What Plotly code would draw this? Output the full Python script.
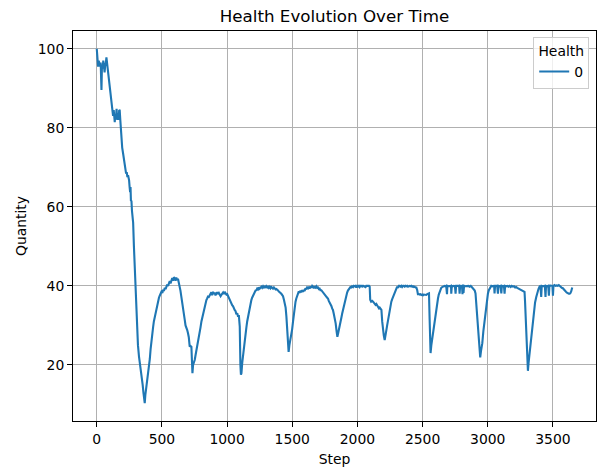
import plotly.graph_objects as go

steps = [0, 5, 10, 15, 20, 25, 30, 36, 40, 45, 50, 55, 60, 65, 70, 74, 80, 85, 92, 98, 105, 110, 115, 120, 125, 130, 135, 138, 142, 147, 152, 157, 162, 167, 172, 176, 181, 185, 189, 195, 202, 208, 215, 220, 225, 230, 235, 240, 248, 252, 256, 259, 262, 266, 270, 274, 279, 285, 291, 297, 304, 310, 316, 324, 333, 343, 352, 358, 363, 368, 373, 381, 387, 393, 400, 407, 413, 419, 425, 432, 438, 445, 452, 458, 464, 470, 477, 483, 490, 496, 503, 509, 515, 522, 528, 534, 540, 547, 553, 560, 566, 573, 579, 585, 592, 598, 604, 610, 617, 623, 629, 636, 642, 649, 655, 662, 668, 675, 681, 688, 694, 700, 706, 713, 719, 726, 730, 734, 739, 745, 752, 758, 765, 771, 777, 784, 790, 796, 803, 809, 815, 822, 828, 834, 841, 847, 853, 860, 866, 873, 879, 885, 892, 898, 905, 911, 918, 924, 931, 937, 943, 950, 956, 963, 969, 975, 982, 988, 995, 1001, 1008, 1014, 1020, 1027, 1033, 1039, 1046, 1052, 1058, 1065, 1071, 1078, 1084, 1090, 1097, 1102, 1106, 1110, 1116, 1122, 1129, 1135, 1141, 1148, 1154, 1160, 1167, 1173, 1180, 1186, 1192, 1199, 1205, 1212, 1218, 1225, 1231, 1237, 1244, 1250, 1256, 1263, 1269, 1276, 1282, 1289, 1295, 1301, 1308, 1314, 1320, 1327, 1333, 1340, 1346, 1352, 1359, 1365, 1372, 1378, 1384, 1391, 1397, 1403, 1410, 1416, 1423, 1429, 1436, 1442, 1449, 1455, 1461, 1467, 1472, 1478, 1484, 1493, 1499, 1506, 1512, 1518, 1525, 1531, 1537, 1544, 1550, 1556, 1563, 1569, 1576, 1582, 1588, 1595, 1601, 1608, 1614, 1621, 1627, 1633, 1640, 1646, 1653, 1659, 1665, 1672, 1678, 1685, 1691, 1697, 1704, 1710, 1716, 1723, 1729, 1736, 1742, 1748, 1755, 1761, 1768, 1774, 1780, 1787, 1793, 1800, 1806, 1812, 1818, 1825, 1833, 1840, 1846, 1852, 1858, 1864, 1870, 1877, 1883, 1889, 1896, 1902, 1908, 1915, 1921, 1927, 1934, 1940, 1946, 1953, 1959, 1966, 1972, 1979, 1985, 1991, 1998, 2004, 2011, 2017, 2023, 2030, 2036, 2043, 2049, 2055, 2062, 2068, 2075, 2081, 2089, 2094, 2098, 2105, 2113, 2120, 2126, 2132, 2139, 2145, 2152, 2158, 2165, 2171, 2178, 2184, 2190, 2196, 2202, 2209, 2215, 2222, 2228, 2235, 2241, 2247, 2254, 2260, 2266, 2273, 2279, 2285, 2292, 2298, 2305, 2311, 2317, 2324, 2330, 2337, 2343, 2350, 2356, 2362, 2369, 2375, 2382, 2388, 2394, 2401, 2407, 2414, 2420, 2426, 2433, 2439, 2446, 2452, 2458, 2464, 2471, 2477, 2484, 2490, 2497, 2503, 2509, 2516, 2522, 2528, 2535, 2541, 2549, 2554, 2561, 2567, 2573, 2579, 2586, 2592, 2598, 2605, 2611, 2618, 2624, 2630, 2637, 2643, 2650, 2656, 2662, 2669, 2675, 2681, 2687, 2690, 2700, 2707, 2713, 2718, 2720, 2724, 2732, 2740, 2748, 2753, 2757, 2766, 2774, 2780, 2784, 2788, 2796, 2802, 2806, 2810, 2814, 2818, 2826, 2835, 2843, 2852, 2860, 2869, 2877, 2886, 2894, 2900, 2906, 2911, 2916, 2924, 2932, 2938, 2942, 2948, 2953, 2958, 2966, 2975, 2984, 2993, 3001, 3008, 3014, 3021, 3027, 3035, 3042, 3049, 3052, 3056, 3065, 3072, 3078, 3082, 3090, 3098, 3104, 3108, 3116, 3124, 3129, 3133, 3142, 3150, 3159, 3167, 3176, 3184, 3193, 3201, 3210, 3218, 3226, 3231, 3240, 3248, 3257, 3265, 3274, 3282, 3286, 3290, 3296, 3303, 3308, 3313, 3321, 3330, 3338, 3346, 3355, 3363, 3372, 3380, 3389, 3397, 3404, 3410, 3414, 3423, 3431, 3438, 3443, 3447, 3456, 3464, 3469, 3473, 3481, 3490, 3496, 3500, 3504, 3512, 3520, 3528, 3537, 3545, 3552, 3560, 3568, 3576, 3584, 3592, 3600, 3607, 3614, 3622, 3628, 3633, 3640, 3648]

health = [100, 97, 95.5, 97, 96, 95.5, 96.5, 89.6, 96, 95, 97, 96, 94, 96, 96.5, 97.8, 96, 95, 92, 90, 87.7, 86, 85, 84.5, 83, 84.5, 82, 81.4, 83.5, 82.5, 84.8, 82, 83.5, 82, 84.5, 84.4, 81.8, 79, 76.8, 75, 73.5, 72, 70, 69, 68.4, 68.8, 67.5, 68, 66.7, 65, 63.7, 65, 61.5, 61.6, 59, 57.4, 56, 50, 45, 41.4, 33, 29, 25, 22.1, 20, 18, 15, 13, 10.7, 10.3, 12.5, 14.5, 16.5, 17, 19.5, 21.5, 24, 26.3, 27.5, 29.5, 31, 32.2, 33.5, 34.5, 35.5, 36.4, 37, 37.5, 38, 38.5, 38.2, 39, 38.7, 39.5, 39.2, 39.8, 40.3, 40, 40.8, 41.2, 40.6, 41.4, 42, 41.3, 42.2, 41.9, 41.3, 42.1, 41.5, 41.8, 40.8, 40.6, 38.8, 37.2, 35.5, 34, 33, 31.4, 30, 29.5, 28.8, 28, 27, 24.6, 24.8, 24.6, 21, 17.9, 20, 20.5, 21.3, 22.5, 23.8, 24.5, 25, 27, 28, 29.5, 31, 32, 33, 34.2, 35, 35.8, 36.4, 36.8, 37.3, 37.2, 37.7, 37.9, 38.4, 37.6, 38.5, 38, 38.3, 37.6, 38.1, 38.4, 37.9, 38.2, 37.8, 37.4, 37.7, 38.1, 38.3, 37.9, 38.5, 38.1, 37.8, 37.9, 37.3, 37.2, 36.8, 36.2, 35.6, 35.1, 34.8, 34.2, 33.9, 33.6, 32.8, 33.1, 32.2, 32.6, 29.7, 20, 17.5, 17.9, 20.5, 22.5, 24, 25.5, 27.5, 29.5, 31, 32.2, 33.5, 34.8, 35.6, 36.4, 37, 37.6, 38, 38.3, 38.8, 38.9, 39.3, 39.1, 39.6, 39.3, 39.7, 39.8, 39.5, 39.9, 39.6, 39.8, 39.5, 39.9, 39.6, 39.8, 39.5, 39.8, 39.4, 39.7, 39.5, 39.3, 39.6, 39.4, 39.1, 39.2, 38.9, 38.8, 38.6, 38.5, 38.2, 38, 37.6, 37.4, 36.5, 35.6, 34.5, 32.2, 28.5, 25.5, 23.3, 25, 26, 27.1, 29, 31, 33, 34.7, 36, 36.8, 37.6, 38.1, 38.6, 38.2, 38.8, 38.4, 38.9, 38.5, 39, 38.7, 39.4, 39.1, 39.6, 39.4, 39.8, 39.3, 39.9, 39.5, 40, 39.8, 39.4, 39.9, 39.6, 39.9, 39.5, 39.6, 39.2, 39.3, 38.9, 38.9, 38.6, 38.5, 38, 37.8, 37.5, 37.3, 37, 36.8, 36.2, 35.8, 35.3, 34.9, 34.3, 33.9, 33, 32, 30.5, 28.5, 27.1, 28, 28.8, 29.7, 30.5, 32, 33, 33.9, 35, 36, 36.8, 37.7, 38.3, 38.8, 39.1, 39.4, 39.7, 39.6, 39.9, 39.7, 40, 39.9, 40, 39.6, 40, 39.8, 40, 39.7, 40, 40, 39.8, 40, 39.9, 40, 39.7, 40, 40, 39.9, 40, 39.8, 36.5, 36, 36.2, 36, 35.7, 35.6, 35.2, 35.4, 35, 34.5, 34.3, 34.5, 34.2, 33.9, 31, 28.8, 27.5, 26.3, 28, 28.8, 30, 31.5, 33, 33.9, 35, 36, 36.6, 37.2, 38, 38.6, 39, 39.4, 39.8, 39.5, 40, 40, 39.8, 40, 39.7, 40, 40, 39.8, 40, 39.9, 40, 39.8, 40, 40, 39.9, 40, 39.8, 39.9, 39.7, 39.8, 39.6, 39.6, 39, 37.9, 37.9, 37.8, 37.9, 37.7, 37.8, 37.6, 37.8, 37.7, 37.6, 37.7, 37.9, 38, 38.1, 31.4, 23, 25, 26.5, 28, 30, 31.5, 33, 33.9, 35.5, 36.8, 37.8, 38.5, 39.2, 39.5, 39.7, 39.8, 40, 40, 39.9, 40, 37.9, 40, 39.9, 40, 39.9, 40, 38, 40, 39.9, 40, 39.9, 38, 40, 40, 39.9, 40, 38, 40, 39.9, 40, 37.9, 40, 38.2, 40, 39.9, 40, 39.9, 40, 39.8, 40, 39.7, 39.4, 39.2, 38.8, 38.1, 36, 33.9, 30.5, 27.1, 24, 21.9, 23.5, 24.5, 25.5, 28.5, 31.4, 34, 36.4, 38, 38.9, 39.4, 39.8, 40, 39.9, 40, 39.8, 38.1, 40, 39.9, 40, 38, 40, 39.9, 40, 38.1, 40, 39.9, 40, 38, 40, 39.9, 40, 39.8, 40, 39.7, 40, 39.8, 39.9, 39.6, 39.7, 39.5, 39.4, 39.3, 39.1, 38.9, 38.8, 38.6, 38.5, 36, 33, 28, 23, 18.5, 20.5, 23, 26, 28.8, 31.4, 34, 35.8, 37.2, 38.3, 39.2, 39.8, 40, 37.2, 40, 39.9, 40, 40, 37.2, 40, 39.9, 40, 37.5, 40, 40.1, 40, 40, 37.5, 40, 40.2, 40, 40.1, 40, 40.2, 39.9, 39.7, 39.5, 39.4, 39, 38.8, 38.5, 38.3, 38.1, 38, 38, 38.1, 38.6, 39.6]

x_ticks = [0, 500, 1000, 1500, 2000, 2500, 3000, 3500]
y_ticks = [20, 40, 60, 80, 100]

FONT = "DejaVu Sans"
TICK = 13.9

fig = go.Figure()
fig.add_trace(go.Scatter(
    x=steps, y=health, mode="lines", name="0",
    line=dict(color="#1f77b4", width=2.1),
))

axis_common = dict(
    showline=True, linecolor="black", linewidth=1.1, mirror=True,
    showgrid=True, gridcolor="#b0b0b0", gridwidth=1.1,
    ticks="outside", ticklen=4.9, tickwidth=1.1, tickcolor="black",
    tickfont=dict(family=FONT, size=TICK, color="black"),
    zeroline=False,
)

fig.update_layout(
    width=598, height=468,
    margin=dict(l=73, r=2, t=31, b=47),
    paper_bgcolor="white", plot_bgcolor="white",
    font=dict(family=FONT, size=TICK, color="black"),
    title=dict(text="Health Evolution Over Time", x=(73 + 596) / 2 / 598, xanchor="center",
               y=1 - 16 / 468, yanchor="middle", yref="container",
               font=dict(family=FONT, size=16.7, color="black")),
    xaxis=dict(range=[-182.4, 3830.4], tickvals=x_ticks,
               title=dict(text="Step", font=dict(family=FONT, size=TICK), standoff=8),
               **axis_common),
    yaxis=dict(range=[5.8, 104.5], tickvals=y_ticks,
               title=dict(text="Quantity", font=dict(family=FONT, size=TICK), standoff=7),
               **axis_common),
    showlegend=True,
    legend=dict(
        title=dict(text="Health", side="top center", font=dict(family=FONT, size=TICK)),
        x=0.987, xanchor="right", y=0.985, yanchor="top",
        bgcolor="rgba(255,255,255,0.8)", bordercolor="#cccccc", borderwidth=1,
        font=dict(family=FONT, size=TICK),
        itemwidth=30,
    ),
)

fig.write_html("out.html")
